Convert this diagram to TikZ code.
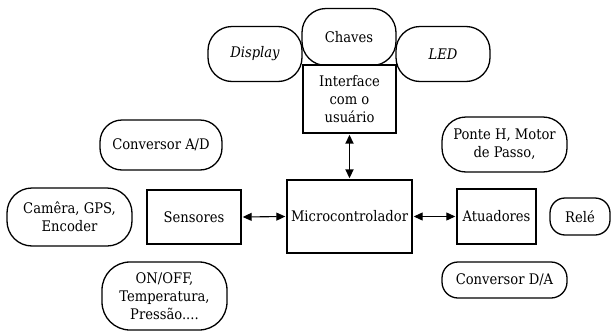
\documentclass[tikz,border=0pt]{standalone}
\usepackage{fontspec}
\setmainfont{DejaVu Serif Condensed}
\usetikzlibrary{arrows.meta}
\begin{document}
\begin{tikzpicture}[x=1pt,y=-1pt,
  font=\fontsize{14.6}{18}\selectfont,
  pill/.style={draw, line width=1.3pt, rounded corners=22pt, align=center, inner sep=0pt},
  blk/.style={draw, line width=1.4pt, align=center, inner sep=0pt},
  link/.style={line width=1.1pt, shorten <=1pt, shorten >=1pt, {Triangle[length=9pt,width=8pt]}-{Triangle[length=9pt,width=8pt]}}]
\useasboundingbox (0,0) rectangle (611,335);
% top
\node[pill, minimum width=94pt, minimum height=55pt, rounded corners=24pt] (display) at (255,54) {\itshape Display};
\node[pill, minimum width=94pt, minimum height=55pt, rounded corners=24pt] (led) at (443,54) {\itshape LED};
\node[pill, minimum width=94pt, minimum height=57pt, rounded corners=24pt, fill=white] (chaves) at (349,37) {Chaves};
\node[blk, minimum width=93pt, minimum height=68pt, fill=white] (iface) at (349.5,99) {Interface\\com o\\usuário};
% center
\node[blk, minimum width=125pt, minimum height=73pt] (micro) at (349.5,216.5) {Microcontrolador};
% left
\node[blk, minimum width=94pt, minimum height=54pt] (sens) at (194,217) {Sensores};
\node[pill, minimum width=122pt, minimum height=50pt, rounded corners=22pt] (ad) at (161,145) {Conversor A/D};
\node[pill, minimum width=125pt, minimum height=58pt, rounded corners=25pt] (cam) at (69.5,217) {Camêra, GPS,\\Encoder};
\node[pill, minimum width=125pt, minimum height=68pt, rounded corners=28pt] (onoff) at (164.5,296) {ON/OFF,\\Temperatura,\\Pressão....};
% right
\node[blk, minimum width=79pt, minimum height=55pt] (atu) at (496.5,216.5) {Atuadores};
\node[pill, minimum width=60pt, minimum height=37pt, rounded corners=15pt] (rele) at (580,216.5) {Relé};
\node[pill, minimum width=125pt, minimum height=55pt, rounded corners=24pt] (ponte) at (504.5,144.5) {Ponte H, Motor\\de Passo,};
\node[pill, minimum width=125pt, minimum height=36pt, rounded corners=16pt] (da) at (504.5,280) {Conversor D/A};
% connectors
\draw[link, line width=1.8pt] (iface.south) -- (micro.north);
\draw[link] (sens.east) -- (micro.west);
\draw[link] (micro.east) -- (atu.west);
\end{tikzpicture}
\end{document}
